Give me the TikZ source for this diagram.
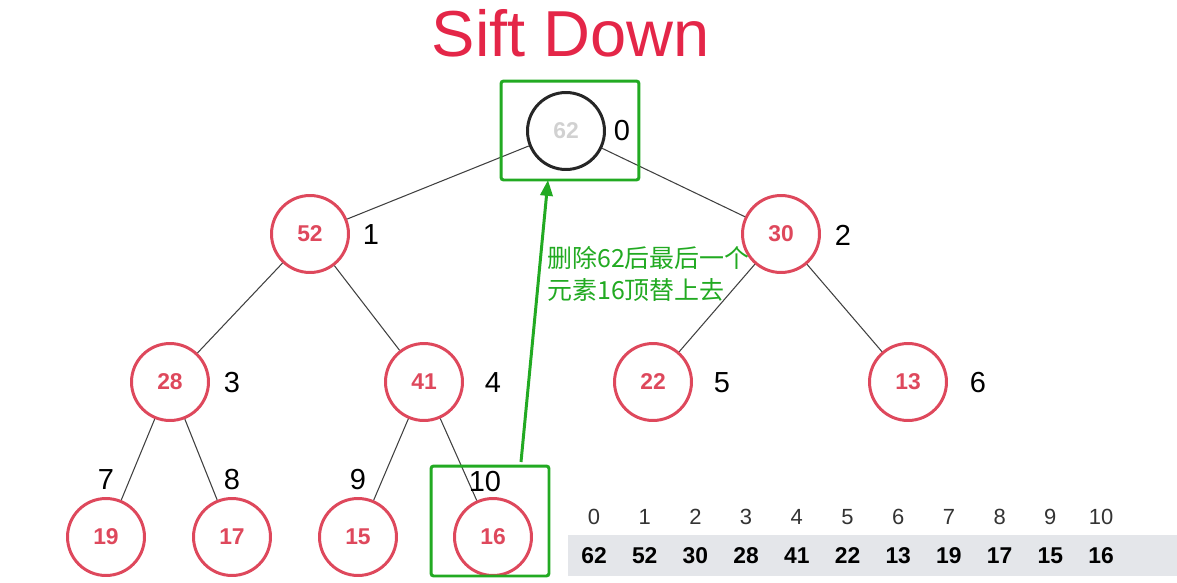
\documentclass[tikz,border=0pt]{standalone}
\usepackage{fontspec}
\setmainfont{Liberation Sans}
\newfontfamily\cjk{Noto Sans CJK SC}
\usetikzlibrary{arrows.meta}
\definecolor{heapred}{RGB}{222,72,92}
\definecolor{titlered}{RGB}{228,38,72}
\definecolor{markgreen}{RGB}{34,170,34}
\definecolor{bargray}{RGB}{228,230,234}

\begin{document}
\begin{tikzpicture}[x=0.02cm, y=-0.02cm,
        heap/.style={circle, draw=heapred, line width=1.7pt, minimum size=1.54cm,
            inner sep=0pt, text=heapred, font=\fontsize{13}{14}\selectfont\bfseries},
        idx/.style={font=\fontsize{16.5}{18}\selectfont},
        markbox/.style={draw=markgreen, line width=1.7pt, rounded corners=1.5pt, inner sep=0pt},
        edge/.style={draw=black!75, line width=0.6pt}]
    \useasboundingbox (0,0) rectangle (1177,582);

    \node[text=titlered, font=\fontsize{37}{40}\selectfont] (title) at (571,33) {Sift Down};

    % heap nodes
    \node[heap, draw=black!85, text=black!18] (n0) at (566,131) {62};
    \node[heap] (n1) at (310,234) {52};
    \node[heap] (n2) at (781,234) {30};
    \node[heap] (n3) at (170,382) {28};
    \node[heap] (n4) at (424,382) {41};
    \node[heap] (n5) at (653,382) {22};
    \node[heap] (n6) at (908,382) {13};
    \node[heap] (n7) at (106,537) {19};
    \node[heap] (n8) at (232,537) {17};
    \node[heap] (n9) at (358,537) {15};
    \node[heap] (n10) at (493,537) {16};

    \draw[edge] (n0) -- (n1);
    \draw[edge] (n0) -- (n2);
    \draw[edge] (n1) -- (n3);
    \draw[edge] (n1) -- (n4);
    \draw[edge] (n2) -- (n5);
    \draw[edge] (n2) -- (n6);
    \draw[edge] (n3) -- (n7);
    \draw[edge] (n3) -- (n8);
    \draw[edge] (n4) -- (n9);
    \draw[edge] (n4) -- (n10);

    % indices next to the nodes
    \node[idx] (i0) at (622,131) {0};
    \node[idx] (i1) at (371,235) {1};
    \node[idx] (i2) at (843,235) {2};
    \node[idx] (i3) at (232,383) {3};
    \node[idx] (i4) at (493,383) {4};
    \node[idx] (i5) at (722,383) {5};
    \node[idx] (i6) at (978,383) {6};
    \node[idx] (i7) at (106,480) {7};
    \node[idx] (i8) at (232,480) {8};
    \node[idx] (i9) at (358,480) {9};
    \node[idx] (i10) at (485,482) {10};

    % green marks
    \node[markbox, minimum width=2.76cm, minimum height=1.98cm] (box0) at (570,130.5) {};
    \node[markbox, minimum width=2.36cm, minimum height=2.2cm] (box10) at (490,521) {};
    \coordinate (arrS) at (521,462);
    \coordinate (arrE) at (548,180);
    \draw[markgreen, line width=1.7pt, -{Triangle[length=9pt, width=7pt]}] (arrS) -- (arrE);
    \node[anchor=west, text=markgreen, align=left, inner sep=0pt,
        font=\cjk\fontsize{14.2}{18}\selectfont] (note) at (547,274)
        {删除62后最后一个\\元素16顶替上去};

    % array
    \fill[bargray] (568,535) rectangle (1177,576);
    \foreach \v [count=\i from 0] in {62,52,30,28,41,22,13,19,17,15,16} {
        \node[font=\fontsize{12.5}{14}\selectfont, text=black!80] (a\i) at (594+50.7*\i,517) {\i};
        \node[font=\fontsize{13}{14}\selectfont\bfseries] (v\i) at (594+50.7*\i,556) {\v};
    }
\end{tikzpicture}
\end{document}
